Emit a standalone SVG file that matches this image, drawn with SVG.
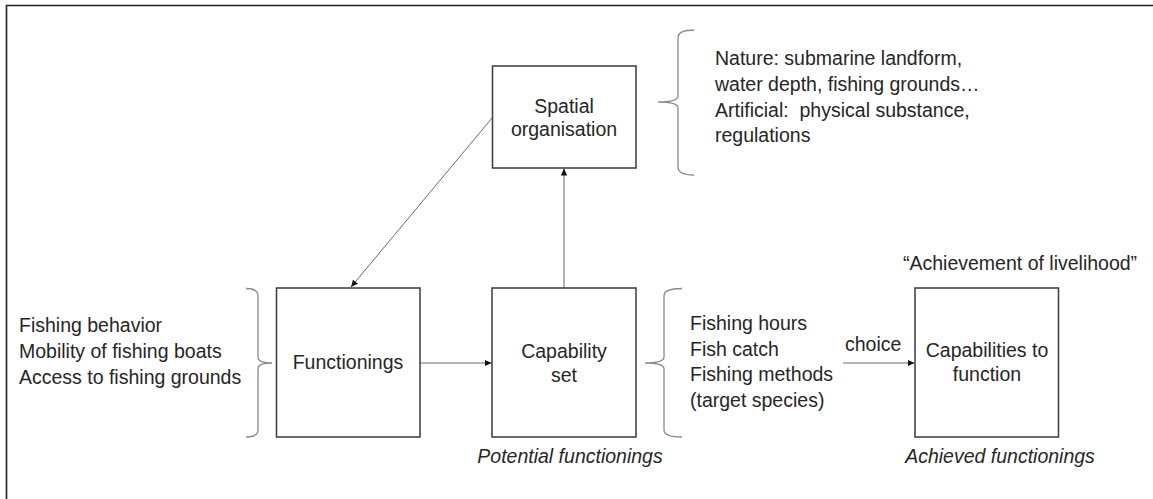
<svg xmlns="http://www.w3.org/2000/svg" width="1153" height="499" viewBox="0 0 1153 499">
<style>
text{font-family:"Liberation Sans",Arial,sans-serif;font-size:19.5px;fill:#262626}
.c{text-anchor:middle}
.i{font-style:italic}
.box{fill:#fff;stroke:#3a3a3a;stroke-width:1.5}
.br{fill:none;stroke:#8a8a8a;stroke-width:1.3}
.ar{stroke:#6a6a6a;stroke-width:1;fill:none}
</style>
<defs>
<marker id="ah" markerWidth="8" markerHeight="8" refX="7" refY="4" orient="auto" markerUnits="userSpaceOnUse">
<path d="M0,0.8 L7,4 L0,7.2 Z" fill="#111"/>
</marker>
</defs>
<rect x="0" y="0" width="1153" height="499" fill="#fff"/>
<path d="M6.5,499 V5.5 H1153" fill="none" stroke="#222" stroke-width="1.6"/>
<g id="connectors">
<line class="ar" x1="492" y1="118" x2="351" y2="287" marker-end="url(#ah)"/>
<line class="ar" x1="564" y1="288" x2="564" y2="168.5" marker-end="url(#ah)"/>
<line class="ar" x1="420" y1="363" x2="491.5" y2="363" marker-end="url(#ah)"/>
<line class="ar" x1="843" y1="363" x2="914.5" y2="363" marker-end="url(#ah)"/>
<text x="845" y="351">choice</text>
</g>
<g id="spatial">
<rect class="box" x="492.5" y="66" width="143.5" height="102"/>
<text class="c" x="564" y="113">Spatial</text>
<text class="c" x="564" y="136">organisation</text>
</g>
<g id="spatial-brace">
<path class="br" d="M694,30 Q678,30 678,38 V96 Q678,102 658,102 Q678,102 678,108 V167 Q678,175 694,175"/>
<text x="715" y="65">Nature: submarine landform,</text>
<text x="715" y="91">water depth, fishing grounds…</text>
<text x="715" y="117" xml:space="preserve">Artificial:  physical substance,</text>
<text x="715" y="142">regulations</text>
</g>
<g id="functionings">
<rect class="box" x="276.5" y="288" width="143.5" height="149"/>
<text class="c" x="348" y="369">Functionings</text>
</g>
<g id="functionings-brace">
<path class="br" d="M246,288.5 Q258,288.5 258,296 V357 Q258,363 272,363 Q258,363 258,369 V430 Q258,437 246,437"/>
<text x="19" y="332">Fishing behavior</text>
<text x="19" y="358">Mobility of fishing boats</text>
<text x="19" y="384">Access to fishing grounds</text>
</g>
<g id="capability">
<rect class="box" x="492" y="288" width="144" height="149"/>
<text class="c" x="564" y="358">Capability</text>
<text class="c" x="564" y="382">set</text>
<text class="c i" x="570" y="463">Potential functionings</text>
</g>
<g id="capability-brace">
<path class="br" d="M682,288.5 Q664,288.5 664,296 V357 Q664,363 645,363 Q664,363 664,369 V430 Q664,437 682,437"/>
<text x="690" y="330">Fishing hours</text>
<text x="690" y="356">Fish catch</text>
<text x="690" y="381">Fishing methods</text>
<text x="690" y="407">(target species)</text>
</g>
<g id="capabilities-to-function">
<rect class="box" x="915" y="288" width="143.5" height="149"/>
<text class="c" x="987" y="357">Capabilities to</text>
<text class="c" x="987" y="381">function</text>
<text x="903" y="270">“Achievement of livelihood”</text>
<text class="c i" x="1000" y="463">Achieved functionings</text>
</g>
</svg>
